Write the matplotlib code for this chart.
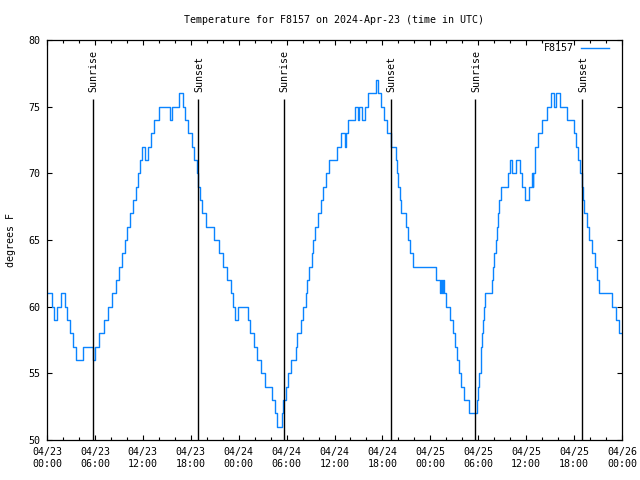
import matplotlib
matplotlib.use('Agg')
import matplotlib.pyplot as plt
from matplotlib.ticker import FixedLocator, FuncFormatter

# temperature readings: hours since 04/23 00:00 UTC and degrees F (change points)
hours = [0, 0.67, 0.92, 1.2, 1.71, 2.3, 2.55, 2.85, 3.2, 3.6, 4.55, 5.7, 6.0,
         6.5, 7.15, 7.7, 8.2, 8.6, 9.0, 9.35, 9.75, 10.05, 10.4, 10.75, 11.1,
         11.4, 11.65, 11.95, 12.25, 12.6, 13.0, 13.4, 14.05, 15.35, 15.6,
         16.55, 17.05, 17.3, 17.7, 18.1, 18.45, 18.75, 18.95, 19.1,
         19.4, 19.85, 20.9, 21.5, 22.05, 22.55, 23.0, 23.3, 23.5, 23.95,
         25.15, 25.45, 25.95, 26.3, 26.85, 27.3, 28.15, 28.5, 28.85, 29.4,
         29.5, 29.9, 30.2, 30.6, 31.15, 31.35, 31.75, 32.1, 32.4, 32.6, 32.85,
         33.15, 33.35, 33.6, 33.95, 34.25, 34.6, 34.9, 35.35, 36.3, 36.8,
         37.3, 37.5, 37.75, 38.55, 38.9, 39.1, 39.45, 39.8, 40.2, 41.25, 41.5,
         41.85, 42.25, 42.6, 43.05, 43.7, 43.85, 44.0, 44.15, 44.35, 44.9,
         45.25, 45.45, 45.85, 48.65, 49.2, 49.3, 49.45, 49.55, 49.7, 49.95,
         50.45, 50.9, 51.1, 51.3, 51.6, 51.9, 52.2, 52.84, 53.85, 53.95,
         54.15, 54.3, 54.4, 54.5, 54.6, 54.75, 54.85, 55.7, 55.85, 56.0, 56.2,
         56.4, 56.5, 56.65, 56.9, 57.73, 57.98, 58.27, 58.77, 59.19, 59.48,
         59.9, 60.36, 60.69, 60.82, 60.9, 61.07, 61.45, 61.95, 62.65, 63.1,
         63.45, 63.75, 64.2, 65.15, 66.0, 66.25, 66.5, 66.7, 66.95, 67.1,
         67.3, 67.6, 67.9, 68.25, 68.6, 68.9, 69.15, 70.7, 71.25,
         71.67, 72]
temps = [61, 60, 59, 60, 61, 60, 59, 58, 57, 56, 57, 56, 57,
         58, 59, 60, 61, 62, 63, 64, 65, 66, 67, 68, 69,
         70, 71, 72, 71, 72, 73, 74, 75, 74, 75,
         76, 75, 74, 73, 72, 71, 70, 69, 68,
         67, 66, 65, 64, 63, 62, 61, 60, 59, 60,
         59, 58, 57, 56, 55, 54, 53, 52, 51, 52,
         53, 54, 55, 56, 57, 58, 59, 60, 61, 62, 63,
         64, 65, 66, 67, 68, 69, 70, 71, 72, 73,
         72, 73, 74, 75, 74, 75, 74, 75, 76, 77, 76,
         75, 74, 73, 72, 71, 70, 69, 68, 67, 66,
         65, 64, 63, 62, 61, 62, 61, 62, 61, 60,
         59, 58, 57, 56, 55, 54, 53, 52, 53, 54,
         55, 56, 57, 58, 59, 60, 61, 62, 63, 64, 65,
         66, 67, 68, 69, 70, 71, 70, 71, 70, 69,
         68, 69, 70, 69, 70, 72, 73, 74, 75, 76,
         75, 76, 75, 74, 73, 72, 71, 70, 69, 68,
         67, 66, 65, 64, 63, 62, 61, 60, 59,
         58, 58]

# sunrise / sunset times (hours since start)
sun_hours = [5.7, 18.97, 29.65, 43.02, 53.65, 67.05]
sun_labels = ['Sunrise', 'Sunset', 'Sunrise', 'Sunset', 'Sunrise', 'Sunset']

dates = ['04/23', '04/24', '04/25', '04/26']

plt.rcParams['font.family'] = ['DejaVu Sans Mono']
plt.rcParams['font.size'] = 7.2

fig = plt.figure(figsize=(6.4, 4.8), dpi=100)
ax = fig.add_axes([47 / 640, 40 / 480, 575 / 640, 400 / 480])

ax.step(hours, temps, where='post', color='#0a84ff', lw=1.0, label='F8157')

top_line = 75.57
ax.vlines(sun_hours, 50, top_line, color='black', lw=1.0)
for h, lab in zip(sun_hours, sun_labels):
    ax.text(h + 0.1, 76.1, lab, rotation=90, ha='center', va='bottom')

ax.set_xlim(0, 72)
ax.set_ylim(50, 80)


def fmt_time(v, pos):
    v = int(round(v))
    return '%s\n%02d:00' % (dates[v // 24], v % 24)


ax.xaxis.set_major_locator(FixedLocator(list(range(0, 73, 6))))
ax.xaxis.set_minor_locator(FixedLocator([h for h in range(0, 73, 2) if h % 6]))
ax.xaxis.set_major_formatter(FuncFormatter(fmt_time))
ax.yaxis.set_major_locator(FixedLocator(list(range(50, 81, 5))))

ax.tick_params(which='both', direction='in', top=True, right=True, width=0.8)
ax.tick_params(which='major', length=3.3, pad=5)
ax.tick_params(which='minor', length=2.0)
for lbl in ax.get_xticklabels():
    lbl.set_linespacing(1.25)
for s in ax.spines.values():
    s.set_linewidth(0.9)

ax.legend(loc='upper right', bbox_to_anchor=(609 / 640, 1 - 43 / 480),
          bbox_transform=fig.transFigure, frameon=False, markerfirst=False,
          handlelength=2.8, handletextpad=0.7, borderpad=0, borderaxespad=0)

fig.text(334.5 / 640, 1 - 20 / 480,
         'Temperature for F8157 on 2024-Apr-23 (time in UTC)',
         ha='center', va='center')
fig.text(11 / 640, 0.5, 'degrees F', rotation=90, ha='center', va='center')

fig.savefig('out.png', dpi=100)
